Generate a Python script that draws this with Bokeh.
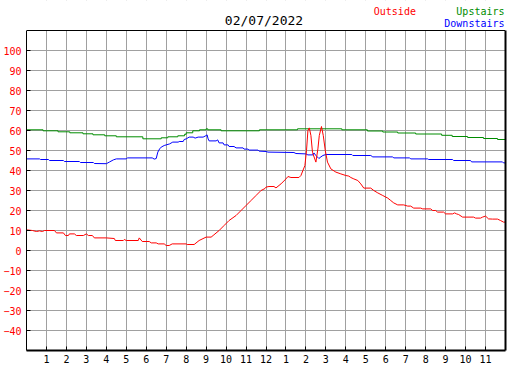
from bokeh.plotting import figure
from bokeh.models import Range1d, FixedTicker, LinearAxis, Label, Grid, Span, BoxAnnotation
from bokeh.embed import file_html
from bokeh.resources import INLINE

# ---------------- data ----------------
title_text = "02/07/2022"
series_names = ["Outside", "Upstairs", "Downstairs"]
series_colors = ["#ff0000", "#008c00", "#0000ff"]

hour_ticks = [1, 2, 3, 4, 5, 6, 7, 8, 9, 10, 11, 12, 13, 14, 15, 16, 17, 18, 19, 20, 21, 22, 23]
hour_labels = ["1", "2", "3", "4", "5", "6", "7", "8", "9", "10", "11", "12",
               "1", "2", "3", "4", "5", "6", "7", "8", "9", "10", "11"]
temp_ticks = [-40, -30, -20, -10, 0, 10, 20, 30, 40, 50, 60, 70, 80, 90, 100]

outside_hours = [0, 0.3, 0.5, 0.65, 0.8, 0.9, 1.4, 1.5, 1.85, 1.95, 2.1, 2.15, 2.4, 2.5, 2.85,
                 3.0, 3.1, 3.3, 3.4, 4.0, 4.4, 4.45, 4.85, 4.9, 5.0, 5.6, 5.65, 5.8, 6.15,
                 6.25, 6.5, 6.6, 6.9, 7.0, 7.15, 7.3, 8.0, 8.05, 8.4, 8.65, 9.0, 9.25, 9.35,
                 9.65, 9.9, 10.15, 10.5, 10.75, 11.0, 11.25, 11.5, 11.75, 11.95, 12.0, 12.15,
                 12.4, 12.5, 12.75, 13.0, 13.1, 13.25, 13.65, 13.75, 13.95, 14.03, 14.1,
                 14.17, 14.25, 14.33, 14.5, 14.6, 14.67, 14.78, 14.87, 14.97, 15.08, 15.25,
                 15.5, 15.75, 16.0, 16.15, 16.25, 16.4, 16.6, 16.75, 16.9, 17.25, 17.4, 17.6,
                 17.85, 18.1, 18.25, 18.4, 18.6, 18.9, 19.1, 19.25, 19.4, 19.75, 19.85, 20.25,
                 20.35, 20.5, 20.6, 20.9, 21.0, 21.35, 21.45, 21.55, 21.65, 21.85, 22.4, 22.5,
                 22.75, 22.85, 23.0, 23.15, 23.35, 23.6, 23.75, 23.9, 24.0]
outside_temps = [10.3, 10.0, 9.5, 9.8, 9.5, 10.0, 10.0, 8.8, 8.8, 7.5, 7.5, 8.3, 8.3, 7.5, 7.5,
                 8.3, 7.5, 7.5, 6.3, 6.3, 6.0, 5.0, 5.0, 5.5, 5.0, 5.0, 6.3, 4.5, 4.5,
                 3.8, 3.8, 3.3, 3.3, 2.5, 2.5, 3.3, 3.3, 3.0, 3.0, 5.0, 6.7, 6.7, 7.5,
                 10.0, 12.5, 15.0, 17.5, 20.0, 22.5, 25.0, 27.5, 30.0, 31.0, 31.7, 32.0,
                 32.0, 31.3, 33.3, 35.8, 37.0, 36.5, 36.5, 37.5, 42.5, 50.0, 60.0,
                 61.3, 57.5, 49.0, 44.2, 50.8, 57.5, 62.0, 57.5, 50.0, 44.2, 40.8,
                 39.2, 38.3, 37.5, 37.2, 36.5, 35.8, 35.0, 33.3, 31.2, 31.2, 30.0, 28.8,
                 27.5, 26.2, 25.0, 23.8, 22.8, 22.8, 22.2, 22.2, 21.2, 21.2, 20.8, 20.8,
                 20.0, 20.0, 19.2, 19.2, 18.3, 18.3, 18.8, 18.3, 18.0, 16.7, 16.7, 16.2,
                 16.2, 16.7, 17.2, 15.8, 15.7, 15.7, 15.0, 14.2, 14.2]

upstairs_hours = [0, 0.83, 1.58, 2.17, 2.83, 3.33, 3.92, 4.5, 5.83, 6.75, 7.08, 7.58, 7.92,
                  8.0, 8.33, 8.67, 9.0, 9.08, 9.75, 11.67, 13.58, 15.8, 17.08, 17.85, 18.6,
                  19.5, 20.8, 21.33, 22.1, 22.9, 23.6, 24.0]
upstairs_temps = [60.35, 59.85, 59.35, 58.85, 58.35, 57.85, 57.35, 56.85, 55.85, 56.35, 56.85,
                  57.35, 58.1, 58.85, 59.85, 60.35, 60.85, 60.35, 59.85, 60.35, 60.85, 60.35,
                  59.75, 59.25, 58.75, 58.25, 57.6, 57.0, 56.5, 56.0, 55.5, 55.5]

downstairs_hours = [0, 0.65, 0.7, 1.1, 1.15, 1.85, 1.9, 2.65, 2.7, 3.35, 3.4, 4.0, 4.15, 4.35,
                    4.5, 5.0, 5.05, 6.3, 6.4, 6.5, 6.58, 6.67, 6.75, 6.9, 7.17, 7.33, 7.6,
                    7.65, 7.85, 7.9, 8.0, 8.15, 8.35, 8.45, 8.6, 8.85, 8.95, 9.05, 9.1, 9.15,
                    9.5, 9.58, 9.65, 9.85, 9.9, 10.1, 10.15, 10.4, 10.5, 10.85, 10.9, 11.1,
                    11.15, 11.6, 11.65, 12.0, 12.1, 13.4, 13.5, 14.0, 14.1, 14.35, 14.4, 14.5,
                    14.65, 14.75, 14.85, 15.0, 16.3, 16.35, 17.25, 17.35, 18.35, 18.4, 19.2,
                    19.25, 20.1, 20.15, 21.35, 21.4, 22.25, 22.3, 23.85, 23.9, 24.0]
downstairs_temps = [45.8, 45.8, 45.5, 45.5, 45.0, 45.0, 44.5, 44.5, 44.0, 44.0, 43.5, 43.4, 44.2,
                    45.3, 45.8, 45.8, 46.3, 46.3, 45.7, 46.0, 49.2, 50.8, 51.7, 52.5, 53.3,
                    54.2, 54.2, 54.5, 54.5, 55.5, 55.8, 56.7, 56.7, 56.2, 56.7, 56.7, 57.2,
                    57.8, 55.8, 54.8, 54.8, 55.3, 53.8, 53.8, 52.8, 52.8, 52.0, 52.0, 51.3,
                    51.3, 50.7, 50.7, 50.2, 50.2, 49.7, 49.5, 49.2, 49.0, 48.5, 48.3, 47.8,
                    47.8, 48.8, 47.5, 46.0, 46.8, 47.5, 48.0, 48.0, 47.5, 47.5, 46.8, 46.8,
                    46.3, 46.3, 45.8, 45.8, 45.5, 45.5, 45.0, 45.0, 44.3, 44.3, 43.8, 43.8]

# ---------------- figure ----------------
FONT = "DejaVu Sans Mono"
Y_MIN, Y_MAX, Y_TOP = -50, 110, 125   # plot area is -50..110, header band above it

p = figure(width=515, height=368, output_backend="svg", toolbar_location=None,
           x_range=Range1d(0, 24), y_range=Range1d(Y_MIN, Y_TOP),
           min_border_left=25, min_border_right=10, min_border_top=0, min_border_bottom=18,
           x_axis_type=None, y_axis_type=None)
p.background_fill_color = "white"
p.border_fill_color = "white"
p.outline_line_color = None

xaxis = LinearAxis(ticker=FixedTicker(ticks=hour_ticks),
                   major_label_overrides={t: l for t, l in zip(hour_ticks, hour_labels)})
xaxis.axis_line_color = "black"
xaxis.axis_line_width = 2
xaxis.major_tick_in = 4
xaxis.major_tick_out = 0
xaxis.minor_tick_line_color = None
xaxis.major_label_standoff = 4
xaxis.major_label_text_font = FONT
xaxis.major_label_text_font_size = "10px"
xaxis.major_label_text_color = "black"
p.add_layout(xaxis, "below")

yaxis = LinearAxis(ticker=FixedTicker(ticks=temp_ticks), bounds=(Y_MIN, Y_MAX))
yaxis.axis_line_color = "black"
yaxis.axis_line_width = 1
yaxis.major_tick_in = 4
yaxis.major_tick_out = 0
yaxis.minor_tick_line_color = None
yaxis.major_label_standoff = 5
yaxis.major_label_text_font = FONT
yaxis.major_label_text_font_size = "10px"
yaxis.major_label_text_color = "#ff0000"
p.add_layout(yaxis, "left")

raxis = LinearAxis(ticker=FixedTicker(ticks=[]), bounds=(Y_MIN, Y_MAX))
raxis.axis_line_color = "black"
raxis.axis_line_width = 2
raxis.major_tick_line_color = None
raxis.minor_tick_line_color = None
raxis.major_label_standoff = 0
p.add_layout(raxis, "right")

p.add_layout(Grid(dimension=0, ticker=FixedTicker(ticks=hour_ticks),
                  grid_line_color="#a0a0a0", grid_line_width=1))
p.add_layout(Grid(dimension=1, ticker=FixedTicker(ticks=temp_ticks),
                  grid_line_color="#a0a0a0", grid_line_width=1))

p.step(upstairs_hours, upstairs_temps, mode="after", line_color=series_colors[1], line_width=1)
p.line(downstairs_hours, downstairs_temps, line_color=series_colors[2], line_width=1)
p.line(outside_hours, outside_temps, line_color=series_colors[0], line_width=1)

# white header band hides the grid above the plot area, then the top border line
p.add_layout(BoxAnnotation(bottom=Y_MAX, fill_color="white", fill_alpha=1.0, line_color=None))
p.add_layout(Span(location=Y_MAX, dimension="width", line_color="black", line_width=1))

# header texts
p.add_layout(Label(x=11.9, y=115.0, text=title_text, text_align="center", text_baseline="middle",
                   text_font=FONT, text_font_size="13px", text_color="black"))
p.add_layout(Label(x=17.4, y=119.5, text=series_names[0], text_align="left", text_baseline="middle",
                   text_font=FONT, text_font_size="10px", text_color=series_colors[0]))
p.add_layout(Label(x=23.95, y=119.5, text=series_names[1], text_align="right", text_baseline="middle",
                   text_font=FONT, text_font_size="10px", text_color=series_colors[1]))
p.add_layout(Label(x=23.95, y=113.5, text=series_names[2], text_align="right", text_baseline="middle",
                   text_font=FONT, text_font_size="10px", text_color=series_colors[2]))

open("out.html", "w").write(file_html(p, INLINE))
